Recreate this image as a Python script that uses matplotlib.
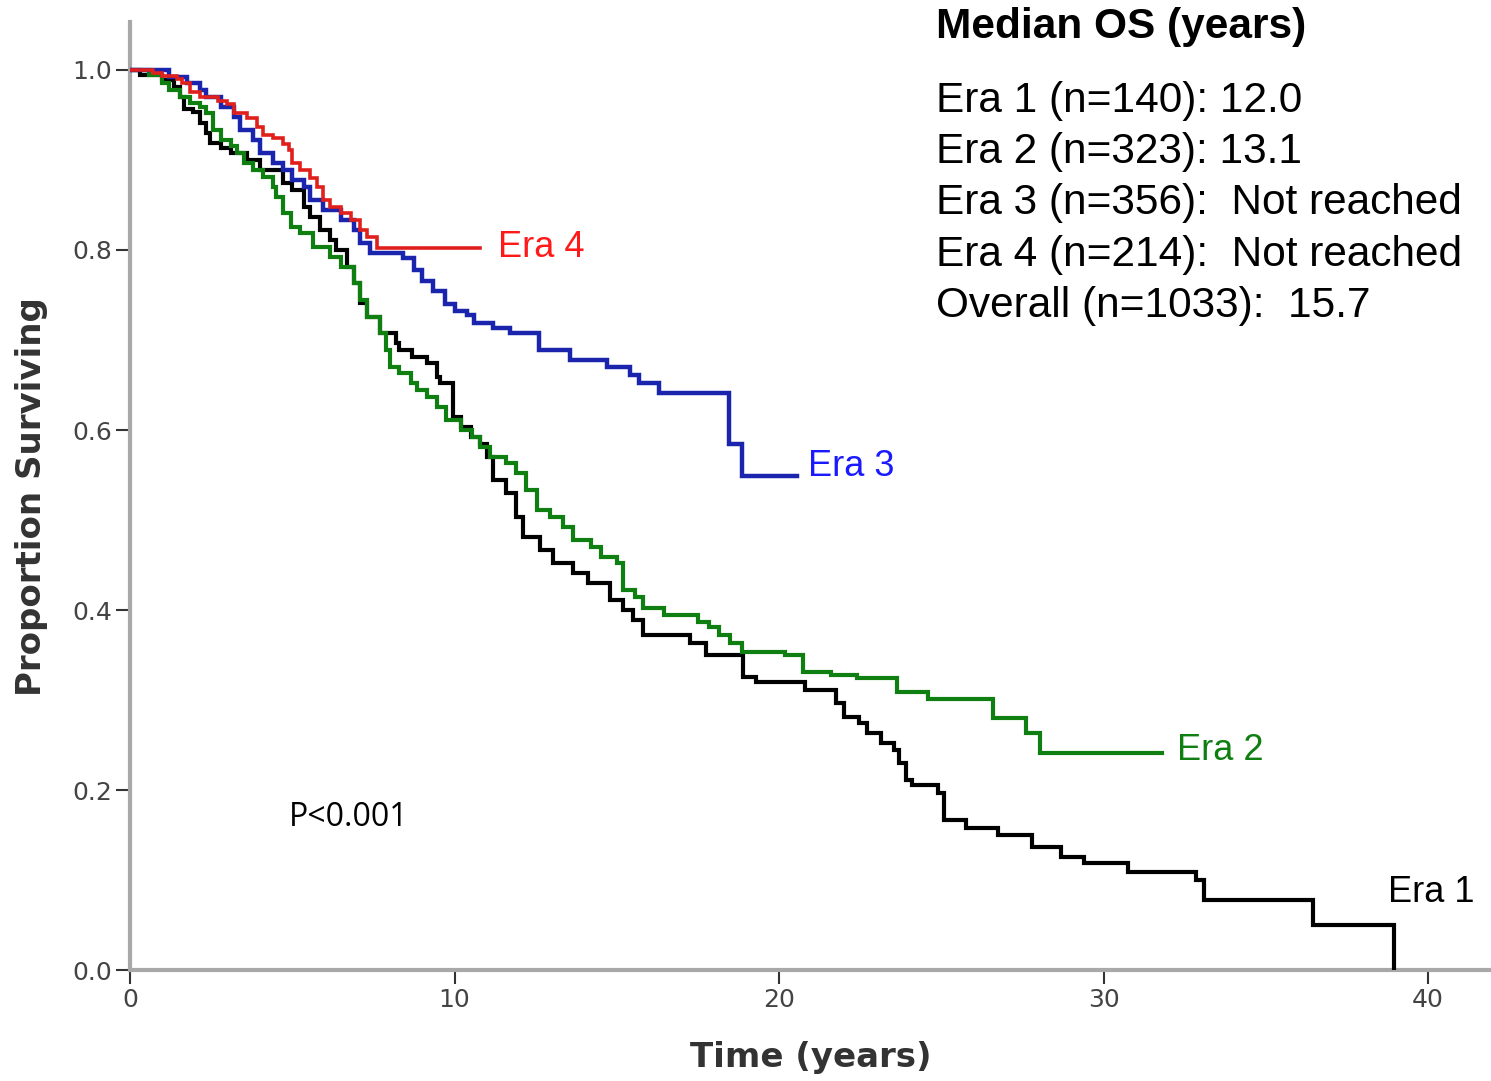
import numpy as np
import matplotlib.pyplot as plt

# Kaplan-Meier steps: time of each drop (years) and survival after it
era1_t = [0, 0.3, 1.0, 1.35, 1.55, 1.65, 1.95, 2.15, 2.35, 2.45, 2.8, 3.1, 3.6, 4.0, 4.7, 5.0,
          5.35, 5.55, 5.85, 6.15, 6.35, 6.7, 6.9, 7.1, 7.3, 7.7, 8.2, 8.3, 8.7, 9.15, 9.45, 9.55,
          9.95, 10.2, 10.5, 10.8, 11.0, 11.2, 11.6, 11.9, 12.1, 12.65, 13.05, 13.65, 14.1, 14.8,
          15.2, 15.5, 15.8, 17.25, 17.75, 18.9, 19.3, 20.8, 21.75, 22.0, 22.45, 22.7, 23.15, 23.55,
          23.7, 23.9, 24.1, 24.9, 25.1, 25.75, 26.75, 27.8, 28.7, 29.4, 30.75, 32.85, 33.1, 36.45,
          38.95]
era1_s = [1.0, 0.994, 0.989, 0.981, 0.97, 0.957, 0.953, 0.941, 0.93, 0.919, 0.913, 0.908, 0.9,
          0.889, 0.874, 0.867, 0.848, 0.837, 0.822, 0.811, 0.8, 0.781, 0.763, 0.741, 0.726, 0.708,
          0.697, 0.689, 0.681, 0.674, 0.659, 0.652, 0.614, 0.603, 0.592, 0.585, 0.57, 0.544, 0.53,
          0.503, 0.481, 0.467, 0.452, 0.441, 0.43, 0.411, 0.4, 0.389, 0.372, 0.363, 0.35, 0.326,
          0.32, 0.311, 0.297, 0.281, 0.274, 0.263, 0.252, 0.244, 0.23, 0.211, 0.206, 0.197, 0.167,
          0.158, 0.15, 0.137, 0.126, 0.119, 0.109, 0.1, 0.078, 0.05, 0.0]
era1_end = 38.95

era2_t = [0, 0.6, 1.0, 1.2, 1.55, 1.85, 2.15, 2.35, 2.55, 2.8, 3.1, 3.3, 3.5, 3.8, 4.1, 4.4, 4.5,
          4.7, 4.95, 5.25, 5.65, 6.15, 6.5, 6.9, 7.1, 7.3, 7.7, 7.9, 8.0, 8.3, 8.65, 8.85, 9.15,
          9.45, 9.75, 10.2, 10.55, 10.8, 11.1, 11.6, 11.9, 12.2, 12.55, 12.95, 13.35, 13.65, 14.2,
          14.5, 15.0, 15.2, 15.55, 15.8, 16.45, 17.5, 17.85, 18.15, 18.5, 18.85, 20.2, 20.75, 21.6,
          22.4, 23.65, 24.6, 26.6, 27.6, 28.05]
era2_s = [1.0, 0.994, 0.985, 0.978, 0.97, 0.963, 0.959, 0.952, 0.933, 0.922, 0.915, 0.908, 0.897,
          0.889, 0.881, 0.87, 0.859, 0.841, 0.826, 0.819, 0.803, 0.792, 0.781, 0.763, 0.744, 0.726,
          0.708, 0.689, 0.67, 0.663, 0.652, 0.644, 0.637, 0.626, 0.611, 0.6, 0.592, 0.581, 0.57,
          0.563, 0.552, 0.533, 0.511, 0.503, 0.492, 0.478, 0.47, 0.459, 0.452, 0.422, 0.415, 0.402,
          0.394, 0.387, 0.381, 0.372, 0.363, 0.353, 0.35, 0.331, 0.328, 0.324, 0.309, 0.301, 0.28,
          0.263, 0.241]
era2_end = 31.8

era3_t = [0, 1.2, 1.75, 2.15, 2.35, 2.8, 3.2, 3.4, 3.8, 4.0, 4.4, 4.7, 5.0, 5.35, 5.55, 5.95, 6.5,
          6.9, 7.1, 7.4, 8.4, 8.75, 9.0, 9.35, 9.7, 10.0, 10.4, 10.6, 11.2, 11.7, 12.6, 13.55, 14.7,
          15.4, 15.7, 16.3, 18.45, 18.85]
era3_s = [1.0, 0.992, 0.985, 0.978, 0.97, 0.959, 0.948, 0.933, 0.922, 0.908, 0.897, 0.889, 0.878,
          0.87, 0.856, 0.844, 0.833, 0.822, 0.808, 0.797, 0.791, 0.778, 0.765, 0.754, 0.74, 0.732,
          0.728, 0.719, 0.713, 0.708, 0.689, 0.678, 0.67, 0.661, 0.652, 0.641, 0.585, 0.549]
era3_end = 20.55

era4_t = [0, 0.7, 1.0, 1.45, 1.6, 1.85, 2.15, 2.7, 3.0, 3.2, 3.6, 3.9, 4.1, 4.4, 4.7, 4.9, 5.0,
          5.25, 5.55, 5.75, 5.95, 6.15, 6.5, 6.8, 7.1, 7.3, 7.6]
era4_s = [1.0, 0.997, 0.993, 0.99, 0.985, 0.975, 0.97, 0.966, 0.962, 0.952, 0.947, 0.937, 0.928,
          0.924, 0.918, 0.911, 0.897, 0.889, 0.88, 0.87, 0.856, 0.848, 0.841, 0.833, 0.822, 0.814,
          0.802]
era4_end = 10.8

median_lines = ["Era 1 (n=140): 12.0",
                "Era 2 (n=323): 13.1",
                "Era 3 (n=356):  Not reached",
                "Era 4 (n=214):  Not reached",
                "Overall (n=1033):  15.7"]

W, H = 1491, 1081
fig = plt.figure(figsize=(W / 100, H / 100), dpi=100)
ax = fig.add_axes([130 / W, 1 - 970 / H, 1 - 130 / W, (970 - 22) / H])

def km(ax, t, s, end, color, lw):
    tt = list(t) + [end]
    ss = list(s) + [s[-1]]
    ax.step(tt, ss, where='post', color=color, lw=lw, solid_joinstyle='miter', zorder=3)

km(ax, era1_t, era1_s, era1_end, 'black', 3.0)
km(ax, era2_t, era2_s, era2_end, '#0f7f12', 3.0)
km(ax, era3_t, era3_s, era3_end, '#1a24ac', 3.2)
km(ax, era4_t, era4_s, era4_end, '#e0201c', 2.6)

ax.set_xlim(0, (W - 130) / 32.45)
ax.set_ylim(0, (970 - 22) / 900)
ax.set_xticks([0, 10, 20, 30, 40])
ax.set_yticks([0.0, 0.2, 0.4, 0.6, 0.8, 1.0])
ax.set_yticklabels(['0.0', '0.2', '0.4', '0.6', '0.8', '1.0'])
ax.tick_params(axis='both', direction='out', length=10, width=1.5, color='#333333',
               labelsize=18, labelcolor='#444444', pad=3)
for side in ['top', 'right']:
    ax.spines[side].set_visible(False)
for side in ['left', 'bottom']:
    ax.spines[side].set_color('#a8a8a8')
    ax.spines[side].set_linewidth(3)
ax.patch.set_alpha(0)

lab = dict(fontsize=26, family='Liberation Sans', va='baseline', ha='left')
ax.text(11.34, 0.792, "Era 4", color='#ff1a1a', **lab)
ax.text(20.9, 0.549, "Era 3", color='#1a1aff', **lab)
ax.text(32.27, 0.233, "Era 2", color='#0f7f12', **lab)
ax.text(38.77, 0.0756, "Era 1", color='black', **lab)
ax.text(4.9, 0.16, "P<0.001", fontsize=23, family='Open Sans', va='baseline', ha='left')

fig.text(936 / W, 1 - 38 / H, "Median OS (years)", fontsize=30.5, fontweight='bold',
         family='Liberation Sans', va='baseline', ha='left')
for i, line in enumerate(median_lines):
    fig.text(936 / W, 1 - (112 + 51.2 * i) / H, line, fontsize=30.5,
             family='Liberation Sans', va='baseline', ha='left')

fig.text(32 / W, 1 - 497 / H, "Proportion Surviving", rotation=90, fontsize=24.5,
         fontweight='bold', color='#333333', ha='center', va='center')
fig.text(811 / W, 1 - 1058 / H, "Time (years)", fontsize=24.5, fontweight='bold',
         color='#333333', ha='center', va='center')

fig.savefig('out.png', dpi=100)
